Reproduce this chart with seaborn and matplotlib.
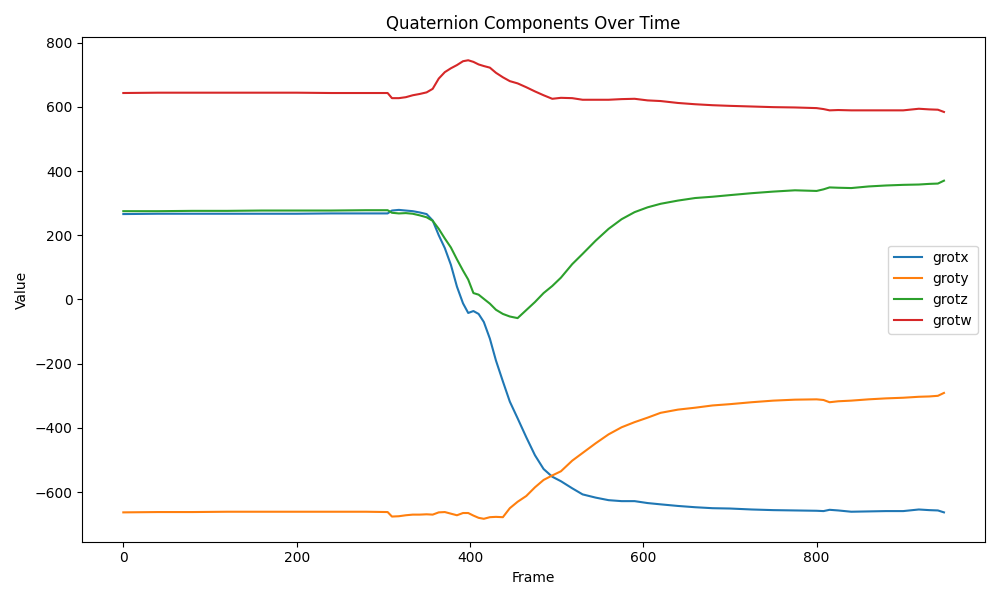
import pandas as pd
import seaborn as sns
import matplotlib
matplotlib.use("Agg")
import matplotlib.pyplot as plt

frames = [0, 40, 80, 120, 160, 200, 240, 280, 305, 310, 318, 326, 334, 342, 350,
          357, 364, 371, 378, 385, 392, 398, 404, 410, 416, 423, 430, 438, 446,
          455, 465, 475, 485, 495, 505, 518, 530, 545, 560, 575, 590, 605, 620,
          640, 660, 680, 700, 725, 750, 775, 800, 808, 815, 825, 840, 860, 880,
          900, 918, 930, 940, 947]

grotx = [266, 267, 267, 267, 267, 267, 268, 268, 268, 277, 279, 277, 275, 271, 266,
         246, 200, 160, 108, 40, -12, -42, -36, -45, -70, -122, -190, -255, -318,
         -370, -429, -485, -528, -552, -566, -588, -607, -617, -625, -628, -628, -634, -638,
         -643, -647, -650, -651, -654, -656, -657, -658, -659, -655, -657, -661, -660, -659,
         -659, -654, -656, -657, -663]

groty = [-663, -662, -662, -661, -661, -661, -661, -661, -662, -676, -675, -672, -670, -670, -669,
         -670, -663, -662, -667, -672, -665, -665, -673, -680, -683, -678, -677, -678, -650,
         -630, -612, -585, -562, -548, -535, -502, -478, -448, -420, -398, -382, -368, -353,
         -343, -337, -330, -326, -320, -315, -312, -311, -313, -320, -317, -315, -311, -308,
         -306, -303, -302, -300, -291]

grotz = [275, 275, 276, 276, 277, 277, 277, 278, 278, 270, 268, 269, 267, 262, 256,
         245, 220, 190, 162, 125, 90, 62, 20, 15, 2, -13, -32, -45, -53,
         -58, -33, -8, 20, 42, 68, 110, 142, 183, 220, 250, 272, 287, 298,
         308, 316, 320, 325, 331, 336, 340, 338, 343, 349, 348, 347, 352, 355,
         357, 358, 360, 361, 370]

grotw = [643, 644, 644, 644, 644, 644, 643, 643, 643, 627, 627, 630, 636, 640, 645,
         656, 688, 708, 720, 730, 742, 745, 740, 732, 727, 722, 706, 692, 680,
         673, 661, 648, 636, 625, 628, 627, 622, 622, 622, 624, 625, 620, 618,
         612, 608, 605, 603, 601, 599, 598, 596, 593, 589, 590, 589, 589, 589,
         589, 594, 592, 591, 584]

df = pd.DataFrame({"Frame": frames, "grotx": grotx, "groty": groty,
                   "grotz": grotz, "grotw": grotw})

fig, ax = plt.subplots(figsize=(10, 6), dpi=100)
for col in ["grotx", "groty", "grotz", "grotw"]:
    sns.lineplot(data=df, x="Frame", y=col, label=col, ax=ax)

ax.set_title("Quaternion Components Over Time")
ax.set_xlabel("Frame")
ax.set_ylabel("Value")
ax.legend(loc="center right")
plt.tight_layout()
plt.savefig("out.png")
